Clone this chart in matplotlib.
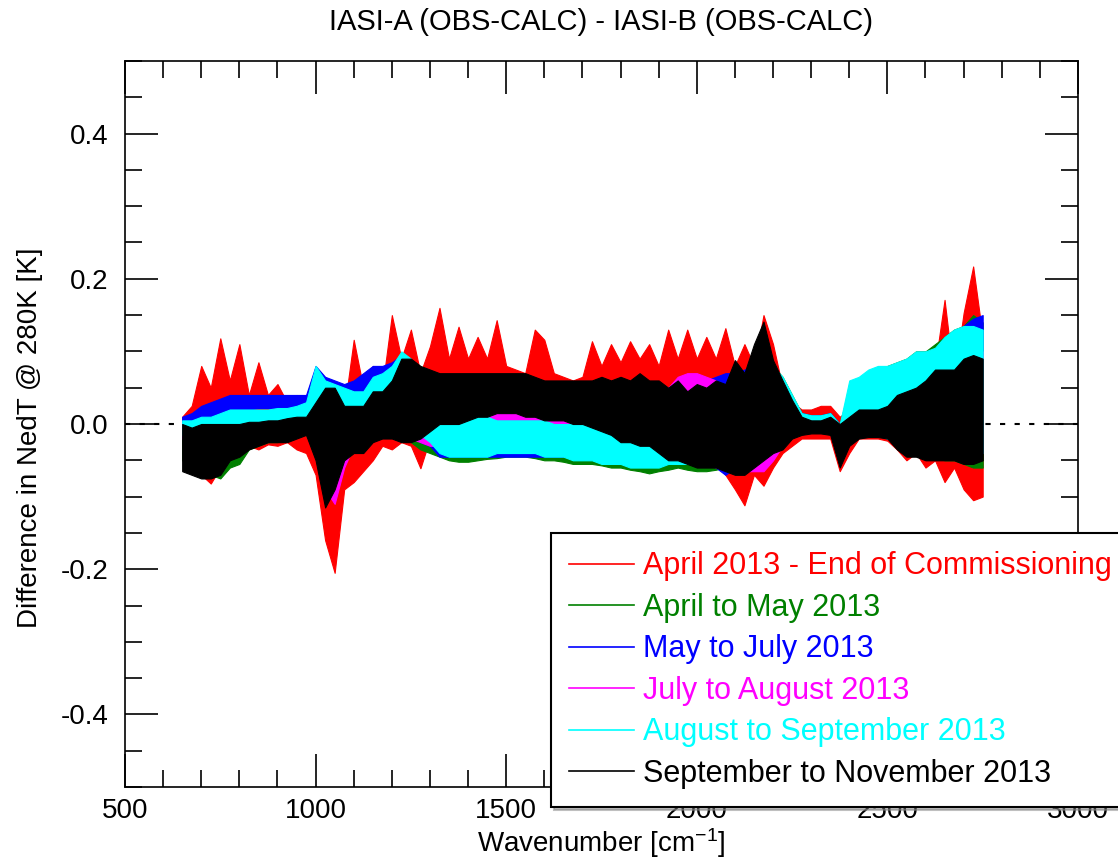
import numpy as np
import matplotlib
matplotlib.use("Agg")
from matplotlib import pyplot as plt
from matplotlib.lines import Line2D
from matplotlib.ticker import MultipleLocator, FormatStrFormatter

plt.rcParams['font.family'] = ['Liberation Sans', 'DejaVu Sans']
plt.rcParams['axes.unicode_minus'] = False
plt.rcParams['mathtext.default'] = 'regular'

# wavenumber sampling of the spectra [cm-1]
wn = np.arange(650, 2751, 25)

# upper / lower envelope of each difference spectrum [K]
red_hi = [0.01, 0.025, 0.08, 0.05, 0.118, 0.06, 0.11, 0.04, 0.085, 0.04,
          0.055, 0.03, 0.04, 0.02, 0.02, 0.0, -0.02, 0.02, 0.116, 0.05,
          0.08, 0.05, 0.15, 0.09, 0.13, 0.07, 0.107, 0.16, 0.09, 0.134,
          0.09, 0.12, 0.09, 0.143, 0.08, 0.075, 0.07, 0.13, 0.116, 0.07,
          0.065, 0.06, 0.065, 0.114, 0.08, 0.11, 0.085, 0.114, 0.09, 0.11,
          0.08, 0.13, 0.09, 0.13, 0.09, 0.12, 0.09, 0.132, 0.08, 0.11,
          0.08, 0.15, 0.11, 0.05, 0.03, 0.02, 0.02, 0.025, 0.025, 0.01,
          0.02, 0.025, 0.02, 0.025, 0.02, 0.03, 0.03, 0.05, 0.05, 0.08,
          0.171, 0.06, 0.153, 0.217, 0.12]
red_lo = [-0.03, -0.045, -0.07, -0.082, -0.06, -0.05, -0.035, -0.03, -0.035, -0.028,
          -0.03, -0.025, -0.035, -0.04, -0.07, -0.16, -0.205, -0.09, -0.08, -0.065,
          -0.05, -0.03, -0.035, -0.025, -0.03, -0.061, -0.02, -0.01, 0.0, 0.0,
          0.0, 0.0, 0.0, 0.005, 0.005, 0.01, 0.01, 0.01, 0.005, 0.0,
          0.0, 0.0, 0.0, -0.01, -0.01, -0.015, -0.02, -0.025, -0.025, -0.03,
          -0.03, -0.045, -0.05, -0.06, -0.045, -0.06, -0.05, -0.07, -0.09, -0.112,
          -0.07, -0.085, -0.06, -0.04, -0.03, -0.02, -0.02, -0.02, -0.02, -0.065,
          -0.04, -0.02, -0.02, -0.02, -0.023, -0.035, -0.05, -0.04, -0.06, -0.05,
          -0.08, -0.06, -0.09, -0.105, -0.10]

green_hi = [0.0, 0.0, 0.005, 0.005, 0.01, 0.01, 0.015, 0.015, 0.015, 0.015,
            0.015, 0.015, 0.02, 0.02, 0.06, 0.05, 0.04, 0.03, 0.03, 0.03,
            0.04, 0.05, 0.06, 0.08, 0.06, 0.03, 0.015, 0.01, 0.01, 0.01,
            0.01, 0.005, 0.005, 0.0, 0.0, 0.0, 0.0, 0.0, 0.0, 0.0,
            0.0, 0.0, 0.0, 0.0, 0.0, 0.0, 0.0, 0.0, 0.0, 0.0,
            0.005, 0.02, 0.03, 0.035, 0.04, 0.04, 0.045, 0.05, 0.06, 0.07,
            0.08, 0.09, 0.08, 0.065, 0.04, 0.015, 0.012, 0.012, 0.015, 0.0,
            0.05, 0.06, 0.07, 0.075, 0.08, 0.085, 0.09, 0.10, 0.10, 0.11,
            0.12, 0.13, 0.135, 0.15, 0.14]
green_lo = [-0.05, -0.06, -0.065, -0.07, -0.075, -0.06, -0.055, -0.035, -0.03, -0.025,
            -0.025, -0.02, -0.015, -0.015, -0.04, -0.10, -0.09, -0.04, -0.035, -0.03,
            -0.02, -0.015, -0.01, -0.01, -0.025, -0.035, -0.04, -0.045, -0.05, -0.052,
            -0.052, -0.05, -0.048, -0.047, -0.045, -0.045, -0.045, -0.047, -0.05, -0.05,
            -0.052, -0.055, -0.055, -0.055, -0.057, -0.06, -0.06, -0.063, -0.065, -0.068,
            -0.065, -0.063, -0.06, -0.063, -0.065, -0.065, -0.063, -0.06, -0.055, -0.05,
            -0.045, -0.035, -0.025, -0.015, -0.01, -0.008, -0.008, -0.008, -0.01, -0.05,
            -0.02, -0.015, -0.015, -0.015, -0.02, -0.025, -0.03, -0.03, -0.04, -0.045,
            -0.05, -0.05, -0.055, -0.06, -0.06]

blue_hi = [0.01, 0.015, 0.025, 0.03, 0.035, 0.04, 0.04, 0.04, 0.04, 0.04,
           0.04, 0.04, 0.04, 0.04, 0.08, 0.065, 0.06, 0.055, 0.06, 0.07,
           0.08, 0.08, 0.085, 0.095, 0.08, 0.04, 0.02, 0.015, 0.015, 0.015,
           0.015, 0.015, 0.015, 0.015, 0.015, 0.015, 0.015, 0.015, 0.015, 0.015,
           0.015, 0.015, 0.015, 0.015, 0.015, 0.02, 0.025, 0.03, 0.035, 0.04,
           0.045, 0.05, 0.055, 0.06, 0.06, 0.06, 0.065, 0.07, 0.07, 0.075,
           0.08, 0.09, 0.08, 0.06, 0.035, 0.015, 0.012, 0.012, 0.015, 0.0,
           0.015, 0.03, 0.04, 0.045, 0.05, 0.06, 0.07, 0.08, 0.09, 0.10,
           0.11, 0.12, 0.135, 0.145, 0.15]
blue_lo = [-0.01, -0.01, -0.005, 0.0, 0.012, 0.02, 0.02, 0.02, 0.022, 0.022,
           0.022, 0.022, 0.022, 0.02, 0.02, -0.02, -0.01, 0.015, 0.02, 0.03,
           0.035, 0.04, 0.04, 0.03, 0.0, -0.025, -0.03, -0.045, -0.045, -0.045,
           -0.045, -0.045, -0.045, -0.045, -0.045, -0.045, -0.045, -0.045, -0.045, -0.045,
           -0.045, -0.045, -0.045, -0.045, -0.05, -0.05, -0.05, -0.05, -0.05, -0.05,
           -0.05, -0.05, -0.05, -0.055, -0.055, -0.055, -0.06, -0.07, -0.06, -0.05,
           -0.04, -0.03, -0.02, -0.015, -0.01, -0.008, -0.008, -0.008, -0.01, -0.05,
           -0.02, -0.015, -0.015, -0.015, -0.02, -0.025, -0.03, -0.03, -0.035, -0.04,
           -0.04, -0.04, -0.04, -0.04, -0.04]

magenta_hi = [0.0, 0.0, 0.005, 0.005, 0.01, 0.01, 0.01, 0.01, 0.01, 0.01,
              0.012, 0.012, 0.015, 0.02, 0.03, 0.02, 0.01, 0.02, 0.025, 0.03,
              0.04, 0.045, 0.05, 0.05, 0.04, 0.03, 0.025, 0.025, 0.025, 0.025,
              0.025, 0.025, 0.025, 0.025, 0.025, 0.025, 0.025, 0.025, 0.025, 0.025,
              0.025, 0.025, 0.025, 0.025, 0.025, 0.025, 0.03, 0.03, 0.035, 0.04,
              0.045, 0.05, 0.065, 0.07, 0.07, 0.065, 0.06, 0.05, 0.04, 0.04,
              0.05, 0.06, 0.05, 0.04, 0.025, 0.01, 0.01, 0.01, 0.01, 0.0,
              0.03, 0.04, 0.045, 0.045, 0.05, 0.055, 0.06, 0.07, 0.08, 0.085,
              0.09, 0.095, 0.10, 0.105, 0.10]
magenta_lo = [-0.02, -0.025, -0.03, -0.03, -0.03, -0.02, -0.015, -0.01, -0.01, -0.01,
              -0.008, -0.008, -0.005, -0.005, -0.03, -0.09, -0.11, -0.06, -0.03, -0.02,
              -0.015, -0.01, -0.01, -0.015, -0.02, -0.025, -0.03, -0.03, -0.03, -0.03,
              -0.03, -0.025, -0.02, -0.015, -0.015, -0.015, -0.015, -0.015, -0.015, -0.015,
              -0.015, -0.015, -0.015, -0.02, -0.02, -0.02, -0.025, -0.025, -0.03, -0.035,
              -0.04, -0.045, -0.05, -0.05, -0.055, -0.055, -0.06, -0.06, -0.065, -0.065,
              -0.065, -0.065, -0.05, -0.03, -0.015, -0.01, -0.01, -0.01, -0.012, -0.055,
              -0.015, -0.005, -0.005, -0.005, -0.01, -0.02, -0.03, -0.03, -0.035, -0.04,
              -0.04, -0.04, -0.04, -0.04, -0.04]

cyan_hi = [0.005, 0.005, 0.01, 0.01, 0.015, 0.02, 0.02, 0.02, 0.02, 0.02,
           0.022, 0.022, 0.025, 0.03, 0.08, 0.06, 0.055, 0.05, 0.045, 0.045,
           0.065, 0.07, 0.08, 0.10, 0.09, 0.05, 0.02, 0.015, 0.015, 0.015,
           0.015, 0.015, 0.01, 0.005, 0.005, 0.005, 0.005, 0.005, 0.005, 0.0,
           0.0, 0.0, 0.0, 0.0, 0.0, 0.0, 0.0, 0.0, 0.0, 0.0,
           0.0, 0.02, 0.03, 0.035, 0.04, 0.04, 0.045, 0.05, 0.06, 0.07,
           0.08, 0.09, 0.08, 0.065, 0.04, 0.015, 0.012, 0.012, 0.015, 0.0,
           0.06, 0.065, 0.075, 0.08, 0.08, 0.085, 0.09, 0.10, 0.10, 0.105,
           0.12, 0.13, 0.135, 0.135, 0.13]
cyan_lo = [-0.015, -0.02, -0.025, -0.025, -0.02, -0.01, -0.005, -0.003, 0.0, 0.0,
           0.0, 0.0, 0.0, 0.0, 0.01, -0.03, -0.02, 0.01, 0.01, 0.015,
           0.03, 0.03, 0.033, 0.02, 0.0, -0.015, -0.025, -0.04, -0.045, -0.045,
           -0.045, -0.045, -0.045, -0.04, -0.04, -0.04, -0.04, -0.04, -0.045, -0.045,
           -0.045, -0.05, -0.05, -0.05, -0.055, -0.055, -0.055, -0.06, -0.06, -0.06,
           -0.06, -0.055, -0.055, -0.055, -0.055, -0.055, -0.055, -0.055, -0.05, -0.045,
           -0.04, -0.03, -0.02, -0.015, -0.01, -0.008, -0.008, -0.008, -0.01, -0.05,
           -0.02, -0.015, -0.015, -0.015, -0.02, -0.025, -0.03, -0.03, -0.035, -0.04,
           -0.04, -0.04, -0.04, -0.04, -0.04]

black_hi = [0.0, -0.005, 0.0, 0.0, 0.0, 0.0, 0.0, 0.003, 0.003, 0.005,
            0.005, 0.008, 0.01, 0.01, 0.03, 0.05, 0.05, 0.025, 0.025, 0.025,
            0.045, 0.045, 0.06, 0.09, 0.09, 0.08, 0.075, 0.07, 0.07, 0.07,
            0.07, 0.07, 0.07, 0.07, 0.07, 0.07, 0.07, 0.065, 0.06, 0.06,
            0.06, 0.06, 0.06, 0.06, 0.065, 0.06, 0.065, 0.06, 0.07, 0.06,
            0.06, 0.05, 0.06, 0.045, 0.055, 0.05, 0.06, 0.055, 0.088, 0.07,
            0.11, 0.141, 0.088, 0.06, 0.033, 0.01, 0.005, 0.005, 0.01, 0.0,
            0.01, 0.02, 0.02, 0.02, 0.025, 0.04, 0.045, 0.05, 0.06, 0.075,
            0.075, 0.075, 0.09, 0.095, 0.09]
black_lo = [-0.065, -0.07, -0.075, -0.075, -0.07, -0.05, -0.045, -0.035, -0.03, -0.025,
            -0.025, -0.025, -0.02, -0.015, -0.05, -0.115, -0.09, -0.05, -0.04, -0.04,
            -0.025, -0.02, -0.02, -0.025, -0.025, -0.02, -0.01, 0.0, 0.0, 0.0,
            0.005, 0.01, 0.01, 0.015, 0.015, 0.015, 0.01, 0.01, 0.005, 0.005,
            0.005, 0.0, 0.0, -0.005, -0.01, -0.015, -0.025, -0.025, -0.03, -0.03,
            -0.04, -0.05, -0.05, -0.055, -0.06, -0.06, -0.06, -0.065, -0.07, -0.07,
            -0.06, -0.05, -0.04, -0.035, -0.02, -0.015, -0.013, -0.013, -0.015, -0.06,
            -0.03, -0.02, -0.018, -0.018, -0.02, -0.035, -0.045, -0.045, -0.05, -0.05,
            -0.05, -0.05, -0.055, -0.055, -0.05]

labels = ["April 2013 - End of Commissioning", "April to May 2013",
          "May to July 2013", "July to August 2013",
          "August to September 2013", "September to November 2013"]
colors = ["#ff0000", "#008000", "#0000ff", "#ff00ff", "#00ffff", "#000000"]
his = [red_hi, green_hi, blue_hi, magenta_hi, cyan_hi, black_hi]
los = [red_lo, green_lo, blue_lo, magenta_lo, cyan_lo, black_lo]

fig = plt.figure(figsize=(11.18, 8.59), dpi=100)
ax = fig.add_axes([0.1118, 0.0838, 0.8524, 0.8452])

ax.axhline(0, color="black", lw=1.5, ls=(0, (2.5, 4.5)), zorder=0.5)
for hi, lo, c in zip(his, los, colors):
    ax.fill_between(wn, lo, hi, facecolor=c, edgecolor=c, lw=0.8, zorder=2)

ax.set_xlim(500, 3000)
ax.set_ylim(-0.5, 0.5)
ax.xaxis.set_major_locator(MultipleLocator(500))
ax.xaxis.set_minor_locator(MultipleLocator(100))
ax.yaxis.set_major_locator(MultipleLocator(0.2))
ax.yaxis.set_minor_locator(MultipleLocator(0.05))
ax.yaxis.set_major_formatter(FormatStrFormatter('%.1f'))
ax.tick_params(which='both', direction='in', top=True, right=True, width=1.2, labelsize=20)
ax.tick_params(which='major', length=24)
ax.tick_params(which='minor', length=12)
ax.tick_params(axis='x', pad=8)
ax.tick_params(axis='y', pad=12)
for s in ax.spines.values():
    s.set_linewidth(1.2)

fig.text(0.5376, 1 - 22 / 859, "IASI-A (OBS-CALC) - IASI-B (OBS-CALC)",
         ha='center', va='center', fontsize=21)
fig.text(0.5376, 1 - 843 / 859, "Wavenumber [cm$^{-1}$]",
         ha='center', va='center', fontsize=20)
fig.text(30 / 1118, 1 - 438 / 859, "Difference in NedT @ 280K [K]",
         ha='center', va='center', rotation=90, fontsize=20)

handles = [Line2D([], [], color=c, lw=1.2) for c in colors]
leg = fig.legend(handles, labels, loc='upper left',
                 bbox_to_anchor=(551 / 1118, 1 - 533 / 859),
                 frameon=True, fancybox=False, edgecolor='black', framealpha=1,
                 fontsize=22, labelcolor='linecolor', handlelength=2.1,
                 handletextpad=0.3, borderpad=0.6, labelspacing=0.376,
                 borderaxespad=0, shadow={'color': '0.5', 'alpha': 0.5})
leg.get_frame().set_linewidth(1.5)

fig.savefig("out.png", dpi=100)
